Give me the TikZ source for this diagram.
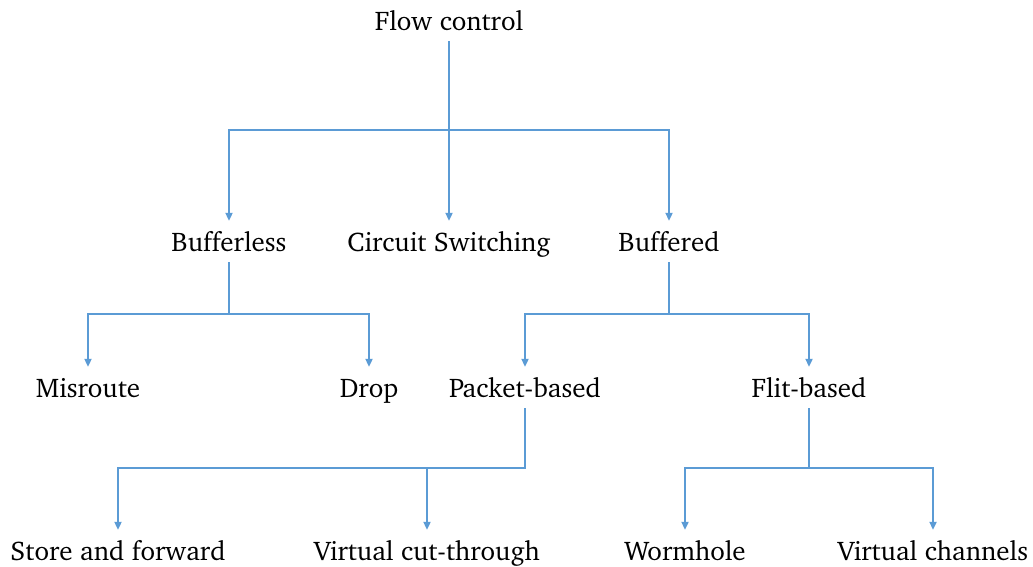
\documentclass[tikz,border=0pt]{standalone}
\usepackage[T1]{fontenc}
\usepackage{charter}
\usetikzlibrary{arrows.meta}
\definecolor{linkblue}{RGB}{91,155,213}
\tikzset{
  lbl/.style={anchor=base, inner xsep=2pt, inner ysep=6pt, text height=24pt, text depth=5pt,
              font=\fontsize{27}{31}\selectfont},
  conn/.style={draw=linkblue, line width=2pt},
  arr/.style={conn, -{Triangle[length=8pt, width=7pt]}},
}
\begin{document}
\begin{tikzpicture}[x=1pt, y=1pt]
\useasboundingbox (0,0) rectangle (1033,-566);

% tree labels
\node[lbl] (fc)  at (449,-30)  {Flow control};
\node[lbl] (bl)  at (229,-251) {Bufferless};
\node[lbl] (cs)  at (449,-251) {Circuit Switching};
\node[lbl] (bf)  at (669,-251) {Buffered};
\node[lbl] (mr)  at (88,-397)  {Misroute};
\node[lbl] (dr)  at (369,-397) {Drop};
\node[lbl] (pb)  at (525,-397) {Packet-based};
\node[lbl] (fb)  at (809,-397) {Flit-based};
\node[lbl] (sf)  at (118,-560) {Store and forward};
\node[lbl] (vct) at (427,-560) {Virtual cut-through};
\node[lbl] (wh)  at (685,-560) {Wormhole};
\node[lbl] (vc)  at (933,-560) {Virtual channels};

% bus levels
\coordinate (b1) at (0,-130);
\coordinate (b2) at (0,-314);
\coordinate (b3) at (0,-468);

% Flow control
\draw[conn] (fc.south) -- (fc.south |- b1);
\draw[arr] (fc.south |- b1) -| (bl.north);
\draw[arr] (fc.south |- b1) -| (bf.north);
\draw[arr] (fc.south) -- (cs.north);

% Bufferless
\draw[conn] (bl.south) -- (bl.south |- b2);
\draw[arr] (bl.south |- b2) -| (mr.north);
\draw[arr] (bl.south |- b2) -| (dr.north);

% Buffered
\draw[conn] (bf.south) -- (bf.south |- b2);
\draw[arr] (bf.south |- b2) -| (pb.north);
\draw[arr] (bf.south |- b2) -| (fb.north);

% Packet-based
\draw[arr] (pb.south) |- (b3 -| sf.north) -- (sf.north);
\draw[arr] (vct.north |- b3) -- (vct.north);

% Flit-based
\draw[conn] (fb.south) -- (fb.south |- b3);
\draw[arr] (fb.south |- b3) -| (wh.north);
\draw[arr] (fb.south |- b3) -| (vc.north);
\end{tikzpicture}
\end{document}
